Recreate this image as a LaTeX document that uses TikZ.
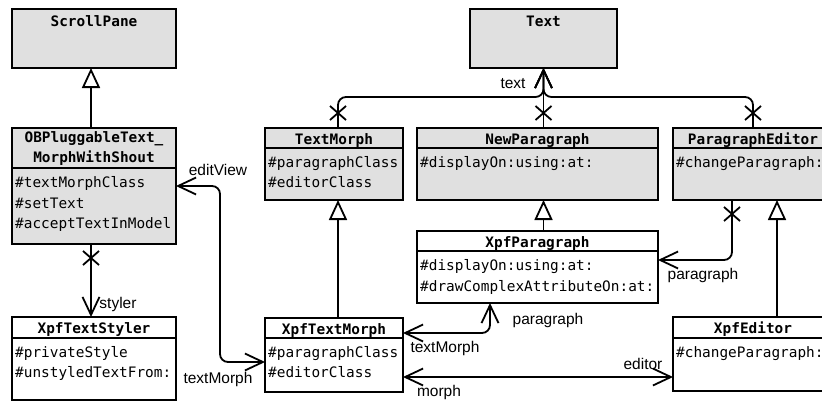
\documentclass[tikz,border=0pt]{standalone}
\usepackage{fontspec}
\setmainfont{Liberation Sans}
\newfontfamily\umlfont{DejaVu Sans Mono}
\usepackage{tikz}
\usetikzlibrary{arrows.meta, positioning, calc}
\definecolor{classgray}{RGB}{224,224,224}

\tikzset{
  umlbox/.style={draw, line width=1.8pt, anchor=north west, inner sep=0pt, outer sep=0pt},
  abstractbox/.style={umlbox, fill=classgray},
  concretebox/.style={umlbox, fill=white},
  clsname/.style={font=\umlfont\bfseries\fontsize{14.4}{16}\selectfont, anchor=base, inner sep=0pt},
  clsattr/.style={font=\umlfont\fontsize{14.4}{16}\selectfont, anchor=base west, inner sep=0pt},
  rolename/.style={font=\fontsize{15.5}{17}\selectfont, inner sep=0pt},
  barb/.tip={Straight Barb[length=18pt, width=17pt]},
  assoc/.style={line width=1.8pt, rounded corners=8pt, -barb},
  biassoc/.style={line width=1.8pt, rounded corners=8pt, barb-barb},
  inherit/.style={line width=1.8pt, -{Triangle[open, fill=white, length=20pt, width=18pt]}},
  xmark/.pic={\draw[line width=1.8pt] (-8pt,-7pt) -- (8pt,7pt) (-8pt,7pt) -- (8pt,-7pt);}
}

\begin{document}
\begin{tikzpicture}[x=1pt, y=-1pt]
    \useasboundingbox (0,0) rectangle (822,402);

    % superclasses
    \node[abstractbox, minimum width=164pt, minimum height=59pt] (scrollPane) at (12,9) {};
    \node[clsname] (scrollPaneName) at ([yshift=-17.5pt]scrollPane.north) {ScrollPane};
    \node[abstractbox, minimum width=147pt, minimum height=59pt] (text) at (470,9) {};
    \node[clsname] (textName) at ([yshift=-17.5pt]text.north) {Text};

    % middle row
    \node[abstractbox, minimum width=164pt, minimum height=116pt] (obPluggable) at (12,128) {};
    \draw[line width=1.8pt] ([yshift=-40pt]obPluggable.north west) -- ([yshift=-40pt]obPluggable.north east);
    \node[clsname] (obPluggableNameA) at ([yshift=-14pt]obPluggable.north) {OBPluggableText\_};
    \node[clsname] (obPluggableNameB) at ([yshift=-34pt]obPluggable.north) {MorphWithShout};
    \node[clsattr] (obPluggableAttrA) at ([xshift=3pt,yshift=-59.5pt]obPluggable.north west) {\#textMorphClass};
    \node[clsattr] (obPluggableAttrB) at ([xshift=3pt,yshift=-80pt]obPluggable.north west) {\#setText};
    \node[clsattr] (obPluggableAttrC) at ([xshift=3pt,yshift=-100.5pt]obPluggable.north west) {\#acceptTextInModel};

    \node[abstractbox, minimum width=138pt, minimum height=72pt] (textMorph) at (265,128) {};
    \draw[line width=1.8pt] ([yshift=-20pt]textMorph.north west) -- ([yshift=-20pt]textMorph.north east);
    \node[clsname] (textMorphName) at ([yshift=-16pt]textMorph.north) {TextMorph};
    \node[clsattr] (textMorphAttrA) at ([xshift=3pt,yshift=-39pt]textMorph.north west) {\#paragraphClass};
    \node[clsattr] (textMorphAttrB) at ([xshift=3pt,yshift=-59.5pt]textMorph.north west) {\#editorClass};

    \node[abstractbox, minimum width=241pt, minimum height=72pt] (newParagraph) at (417,128) {};
    \draw[line width=1.8pt] ([yshift=-20pt]newParagraph.north west) -- ([yshift=-20pt]newParagraph.north east);
    \node[clsname] (newParagraphName) at ([yshift=-16pt]newParagraph.north) {NewParagraph};
    \node[clsattr] (newParagraphAttrA) at ([xshift=3pt,yshift=-39pt]newParagraph.north west) {\#displayOn:using:at:};

    \node[abstractbox, minimum width=160pt, minimum height=72pt] (paragraphEditor) at (673,128) {};
    \draw[line width=1.8pt] ([yshift=-20pt]paragraphEditor.north west) -- ([yshift=-20pt]paragraphEditor.north east);
    \node[clsname] (paragraphEditorName) at ([yshift=-16pt]paragraphEditor.north) {ParagraphEditor};
    \node[clsattr] (paragraphEditorAttrA) at ([xshift=3pt,yshift=-39pt]paragraphEditor.north west) {\#changeParagraph:};

    \node[concretebox, minimum width=241pt, minimum height=72pt] (xpfParagraph) at (417,231) {};
    \draw[line width=1.8pt] ([yshift=-20pt]xpfParagraph.north west) -- ([yshift=-20pt]xpfParagraph.north east);
    \node[clsname] (xpfParagraphName) at ([yshift=-16pt]xpfParagraph.north) {XpfParagraph};
    \node[clsattr] (xpfParagraphAttrA) at ([xshift=3pt,yshift=-39pt]xpfParagraph.north west) {\#displayOn:using:at:};
    \node[clsattr] (xpfParagraphAttrB) at ([xshift=3pt,yshift=-60pt]xpfParagraph.north west) {\#drawComplexAttributeOn:at:};

    % bottom row
    \node[concretebox, minimum width=164pt, minimum height=83pt] (xpfTextStyler) at (12,317) {};
    \draw[line width=1.8pt] ([yshift=-21pt]xpfTextStyler.north west) -- ([yshift=-21pt]xpfTextStyler.north east);
    \node[clsname] (xpfTextStylerName) at ([yshift=-16.5pt]xpfTextStyler.north) {XpfTextStyler};
    \node[clsattr] (xpfTextStylerAttrA) at ([xshift=3pt,yshift=-40pt]xpfTextStyler.north west) {\#privateStyle};
    \node[clsattr] (xpfTextStylerAttrB) at ([xshift=3pt,yshift=-60.5pt]xpfTextStyler.north west) {\#unstyledTextFrom:};

    \node[concretebox, minimum width=138pt, minimum height=74pt] (xpfTextMorph) at (265,318) {};
    \draw[line width=1.8pt] ([yshift=-20pt]xpfTextMorph.north west) -- ([yshift=-20pt]xpfTextMorph.north east);
    \node[clsname] (xpfTextMorphName) at ([yshift=-16pt]xpfTextMorph.north) {XpfTextMorph};
    \node[clsattr] (xpfTextMorphAttrA) at ([xshift=3pt,yshift=-39pt]xpfTextMorph.north west) {\#paragraphClass};
    \node[clsattr] (xpfTextMorphAttrB) at ([xshift=3pt,yshift=-59.5pt]xpfTextMorph.north west) {\#editorClass};

    \node[concretebox, minimum width=160pt, minimum height=74pt] (xpfEditor) at (673,317) {};
    \draw[line width=1.8pt] ([yshift=-21pt]xpfEditor.north west) -- ([yshift=-21pt]xpfEditor.north east);
    \node[clsname] (xpfEditorName) at ([yshift=-16.5pt]xpfEditor.north) {XpfEditor};
    \node[clsattr] (xpfEditorAttrA) at ([xshift=3pt,yshift=-40pt]xpfEditor.north west) {\#changeParagraph:};

    % generalizations
    \draw[inherit] ([xshift=-3pt]obPluggable.north) -- ([xshift=-3pt]scrollPane.south);
    \draw[inherit] ([xshift=4pt]xpfTextMorph.north) -- ([xshift=4pt]textMorph.south);
    \draw[inherit] (text.south |- xpfParagraph.north) -- (text.south |- newParagraph.south);
    \draw[inherit] ([xshift=24pt]xpfEditor.north) -- ([xshift=24pt]paragraphEditor.south);

    % associations
    \coordinate (textJoin) at ([yshift=-29pt]text.south);
    \draw[assoc] ([xshift=4pt]textMorph.north) |- (textJoin) -- (text.south);
    \draw[assoc] (text.south |- newParagraph.north) -- (text.south);
    \draw[assoc] (paragraphEditor.north) |- (textJoin) -- (text.south);
    \pic at ([xshift=4pt,yshift=15pt]textMorph.north) {xmark};
    \pic at ([yshift=15pt]text.south |- newParagraph.north) {xmark};
    \pic at ([yshift=15pt]paragraphEditor.north) {xmark};

    \draw[assoc] ([xshift=-3pt]obPluggable.south) -- ([xshift=-3pt]xpfTextStyler.north);
    \pic at ([xshift=-3pt,yshift=-14pt]obPluggable.south) {xmark};

    \draw[assoc] ([xshift=-21pt]paragraphEditor.south) |- ([yshift=7pt]xpfParagraph.east);
    \pic at ([xshift=-21pt,yshift=-14pt]paragraphEditor.south) {xmark};

    \draw[biassoc] (obPluggable.east) -- ++(44,0) |- ([yshift=-7pt]xpfTextMorph.west);
    \draw[biassoc] ([yshift=22pt]xpfTextMorph.east) -| ([xshift=-47.5pt]xpfParagraph.south);
    \draw[biassoc] ([yshift=-22pt]xpfTextMorph.east) -- ([yshift=-22pt]xpfTextMorph.east -| xpfEditor.west);

    % role names
    \node[rolename] (textRole) at (513,84) {text};
    \node[rolename] (editViewRole) at (218,170) {editView};
    \node[rolename] (stylerRole) at (118,304) {styler};
    \node[rolename] (textMorphRoleA) at (218,379) {textMorph};
    \node[rolename] (textMorphRoleB) at (445,348) {textMorph};
    \node[rolename] (paragraphRoleA) at (548,320) {paragraph};
    \node[rolename] (paragraphRoleB) at (703,275) {paragraph};
    \node[rolename] (morphRole) at (439,392) {morph};
    \node[rolename] (editorRole) at (643,364) {editor};
\end{tikzpicture}
\end{document}
